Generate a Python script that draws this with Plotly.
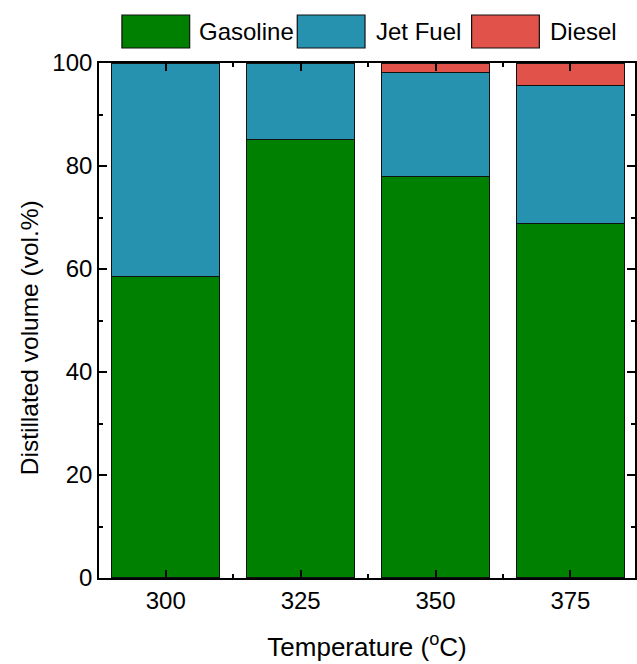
import plotly.graph_objects as go

# Distillation fractions by reaction temperature
temperatures = [300, 325, 350, 375]
gasoline = [58.6, 85.2, 77.9, 68.9]
jet_fuel = [41.4, 14.8, 20.3, 26.7]
diesel = [0.0, 0.0, 1.8, 4.4]

series_names = ["Gasoline", "Jet Fuel", "Diesel"]
series_colors = ["#008000", "#2692B0", "#E0524A"]
series_values = [gasoline, jet_fuel, diesel]

y_ticks = [0, 20, 40, 60, 80, 100]
x_ticks = [300, 325, 350, 375]

FONT = "Liberation Sans, Arial, sans-serif"
W, H = 637, 664
L, R, T, B = 99, 0, 63, 86

fig = go.Figure()
for name, color, vals in zip(series_names, series_colors, series_values):
    fig.add_trace(go.Bar(
        x=temperatures, y=vals, name=name, width=20,
        marker=dict(color=color, line=dict(color="#111111", width=1.2)),
        showlegend=False,
    ))

axis_common = dict(
    showline=True, linecolor="black", linewidth=1.6,
    ticks="inside", tickcolor="black", tickwidth=1.6, ticklen=8,
    mirror="allticks", showgrid=False, zeroline=False,
    tickfont=dict(family=FONT, size=24, color="black"),
)

fig.update_xaxes(
    range=[287.62, 386.97], tickmode="array", tickvals=x_ticks,
    minor=dict(ticks="inside", ticklen=4, tickwidth=1.6, tickcolor="black",
               tick0=312.5, dtick=25, showgrid=False),
    title=dict(text="Temperature (<sup>o</sup>C)", standoff=25,
               font=dict(family=FONT, size=26, color="black")),
    **axis_common,
)
fig.update_yaxes(
    range=[0, 100], tickmode="array", tickvals=y_ticks,
    minor=dict(ticks="inside", ticklen=4, tickwidth=1.6, tickcolor="black",
               tick0=10, dtick=20, showgrid=False),
    **axis_common,
)

plot_w = W - L - R
plot_h = H - T - B


def px_x(p):
    return (p - L) / plot_w


def px_y(p):
    return (H - B - p) / plot_h


# Vertical axis title
fig.add_annotation(
    xref="paper", yref="paper", x=px_x(29), y=px_y(338),
    text="Distillated volume (vol.%)", showarrow=False, textangle=-90,
    xanchor="center", yanchor="middle",
    font=dict(family=FONT, size=24.5, color="black"),
)

# Legend row drawn above the plot frame
box_left = [122, 298, 473]
box_w = 68
text_left = [197, 375, 550]
box_top, box_bot = 15, 48
for name, color, bx, tx in zip(series_names, series_colors, box_left, text_left):
    fig.add_shape(
        type="rect", xref="paper", yref="paper",
        x0=px_x(bx), x1=px_x(bx + box_w), y0=px_y(box_bot), y1=px_y(box_top),
        fillcolor=color, line=dict(color="#111111", width=1.2),
    )
    fig.add_annotation(
        xref="paper", yref="paper", x=px_x(tx), y=px_y((box_top + box_bot) / 2),
        text=name, showarrow=False, xanchor="left", yanchor="middle",
        font=dict(family=FONT, size=24, color="black"),
    )

fig.update_layout(
    barmode="stack", width=W, height=H,
    margin=dict(l=L, r=R, t=T, b=B),
    plot_bgcolor="white", paper_bgcolor="white",
    font=dict(family=FONT, color="black"),
)

fig.write_html("out.html")
